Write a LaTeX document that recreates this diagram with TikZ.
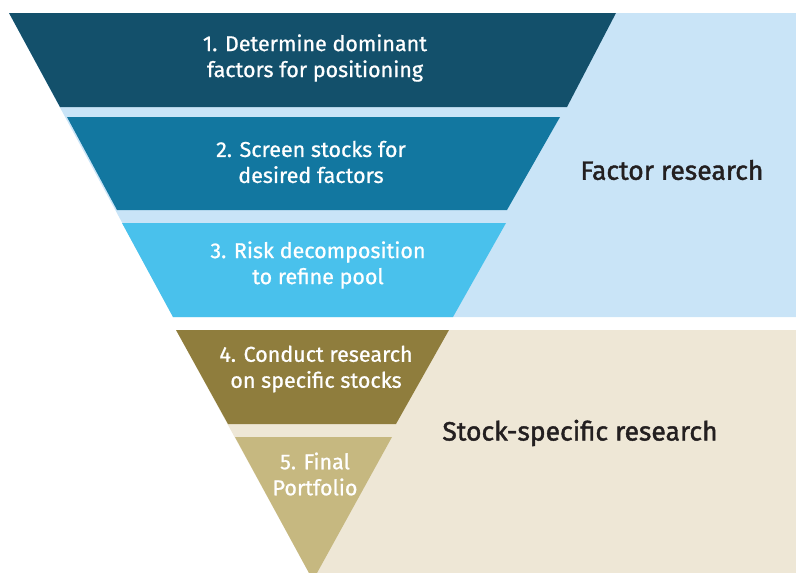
\documentclass[tikz,border=0pt]{standalone}
\usepackage{fontspec}
\setmainfont{Fira Sans}
\newfontfamily\bandfont{Fira Sans}[FakeBold=0.8]
\newfontfamily\headfont{Fira Sans}[FakeBold=1.6]
\usepackage{xcolor}
\definecolor{deepteal}{HTML}{13506B}
\definecolor{midteal}{HTML}{1277A0}
\definecolor{skyband}{HTML}{49C1EC}
\definecolor{paleblue}{HTML}{C9E4F7}
\definecolor{olive}{HTML}{8F7D3D}
\definecolor{sand}{HTML}{C6B880}
\definecolor{cream}{HTML}{EEE7D6}
\definecolor{headink}{HTML}{231F20}
\usepackage{tikz}
\usetikzlibrary{positioning}

\tikzset{
  bandtext/.style={text=white, align=center, font=\bandfont\fontsize{21.5}{26}\selectfont},
  headtext/.style={text=headink, font=\headfont\fontsize{26.5}{30}\selectfont}
}

\begin{document}
\begin{tikzpicture}[x=1pt,y=-1pt]
\useasboundingbox (0,0) rectangle (796,573);

% background areas
\fill[paleblue] (9,13) -- (796,13) -- (796,317) -- (173,317) -- cycle;
\fill[cream] (176,330) -- (796,330) -- (796,573) -- (309,573) -- cycle;

% funnel bands
\fill[deepteal] (9,13) -- (616,13) -- (567,107) -- (60,107) -- cycle;
\fill[midteal] (67,117) -- (560,117) -- (507,210) -- (117,210) -- cycle;
\fill[skyband] (122,223) -- (506,223) -- (453,317) -- (173,317) -- cycle;
\fill[olive] (176,330) -- (449,330) -- (396,424) -- (228,424) -- cycle;
\fill[sand] (235,437) -- (392,437) -- (317,573) -- (309,573) -- cycle;

\node[bandtext] (step1) at (315,58) {1. Determine dominant\\factors for positioning};
\node[bandtext] (step2) at (311,162) {2. Screen stocks for\\desired factors};
\node[bandtext] (step3) at (318,265) {3. Risk decomposition\\to refine pool};
\node[bandtext] (step4) at (316,369) {4. Conduct research\\on specific stocks};
\node[bandtext] (step5) at (315,474) {5. Final\\Portfolio};

\node[headtext] (factor) at (672,170) {Factor research};
\node[headtext] (stock) at (580,433) {Stock-specific research};

\end{tikzpicture}
\end{document}
